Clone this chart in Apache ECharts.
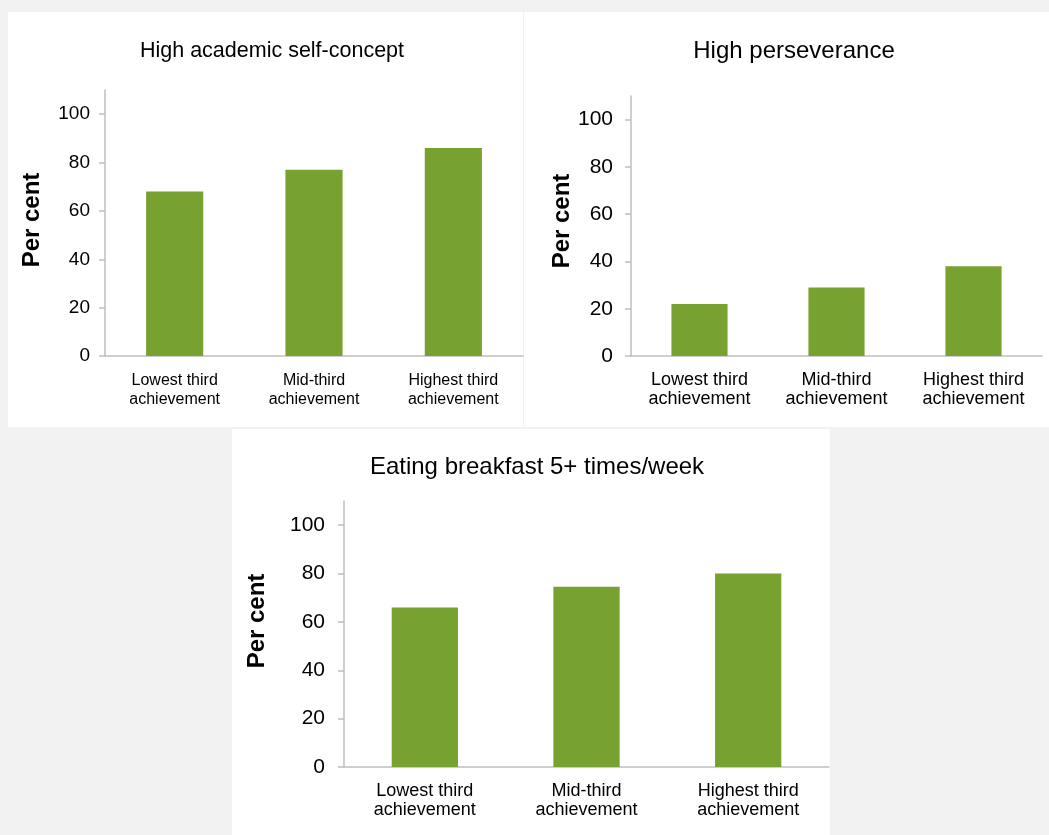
<!DOCTYPE html>
<html>
<head>
<meta charset="utf-8">
<title>Student outcomes by achievement third</title>
<script src="https://cdn.jsdelivr.net/npm/echarts@6/dist/echarts.min.js"></script>
<style>
  html, body { margin: 0; padding: 0; background: #f2f2f2; }
  #chart { width: 1049px; height: 835px; }
</style>
</head>
<body>
<div id="chart"></div>
<script>
// Achievement groups shown on every panel
const categories = ['Lowest third\nachievement', 'Mid-third\nachievement', 'Highest third\nachievement'];

// Per cent of students in each group
const selfConcept = [68, 77, 86];
const perseverance = [22, 29, 38];
const breakfast = [66, 74.5, 80];

// Value axis ticks
const yTicks = [0, 20, 40, 60, 80, 100];
const yMax = 110;

const panelTitles = ['High academic self-concept', 'High perseverance', 'Eating breakfast 5+ times/week'];
const axisName = 'Per cent';

const FONT = '"Liberation Sans", Arial, sans-serif';
const GREEN = '#78a22f';
const AXIS_GREY = '#bfbfbf';

// Layout of the three panels: white card, plot grid, text sizes
const panels = [
  { card: [8, 12, 515, 415], grid: { left: 105, top: 90, width: 418, height: 266 },
    titleX: 267, titleY: 35, titleSize: 21.5, tickSize: 19, catSize: 16, tickMargin: 15,
    nameGap: 61, nameShift: 6, data: selfConcept },
  { card: [524, 12, 525, 415], grid: { left: 631, top: 96, width: 411, height: 260 },
    titleX: 789, titleY: 34, titleSize: 24, tickSize: 21, catSize: 18, tickMargin: 18,
    nameGap: 56, nameShift: 10, data: perseverance },
  { card: [232, 429, 598, 406], grid: { left: 344, top: 501, width: 485, height: 266 },
    titleX: 532, titleY: 450, titleSize: 24, tickSize: 21, catSize: 18, tickMargin: 19,
    nameGap: 75, nameShift: 26, data: breakfast }
];

const chart = echarts.init(document.getElementById('chart'), null, { renderer: 'canvas' });

const option = {
  backgroundColor: '#f2f2f2',
  animation: false,
  graphic: panels.map(p => ({
    type: 'rect',
    z: -10,
    silent: true,
    shape: { x: p.card[0], y: p.card[1], width: p.card[2], height: p.card[3] },
    style: { fill: '#ffffff' }
  })),
  title: panels.map((p, i) => ({
    text: panelTitles[i],
    left: p.titleX,
    top: p.titleY,
    textAlign: 'center',
    textStyle: { fontFamily: FONT, fontSize: p.titleSize, fontWeight: 'normal', color: '#000' }
  })),
  grid: panels.map(p => Object.assign({ containLabel: false, outerBoundsMode: 'none' }, p.grid)),
  xAxis: panels.map((p, i) => ({
    type: 'category',
    gridIndex: i,
    data: categories,
    axisLine: { show: true, lineStyle: { color: AXIS_GREY, width: 1.5 } },
    axisTick: { show: false },
    axisLabel: {
      margin: 15,
      interval: 0,
      fontFamily: FONT,
      fontSize: p.catSize,
      lineHeight: 19,
      color: '#000'
    },
    splitLine: { show: false }
  })),
  yAxis: panels.map((p, i) => ({
    type: 'value',
    gridIndex: i,
    min: 0,
    max: yMax,
    interval: 20,
    name: axisName,
    nameLocation: 'middle',
    nameRotate: 90,
    nameGap: p.nameGap,
    nameTextStyle: {
      fontFamily: FONT, fontSize: 24, fontWeight: 'bold', color: '#000',
      padding: [0, 0, 0, p.nameShift]
    },
    axisLine: { show: true, lineStyle: { color: AXIS_GREY, width: 1.5 } },
    axisTick: { show: true, length: 6, lineStyle: { color: AXIS_GREY, width: 1.5 }, customValues: yTicks },
    axisLabel: {
      margin: p.tickMargin,
      fontFamily: FONT,
      fontSize: p.tickSize,
      color: '#000',
      customValues: yTicks
    },
    splitLine: { show: false }
  })),
  series: panels.map((p, i) => ({
    type: 'bar',
    xAxisIndex: i,
    yAxisIndex: i,
    data: p.data,
    barWidth: '41%',
    itemStyle: { color: GREEN }
  }))
};

chart.setOption(option);
</script>
</body>
</html>
